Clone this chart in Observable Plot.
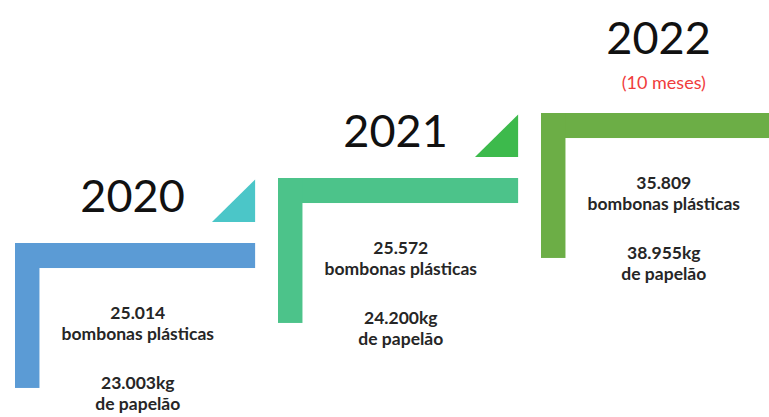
<!DOCTYPE html>
<html>
<head>
<meta charset="utf-8">
<script src="https://cdn.jsdelivr.net/npm/d3@7"></script>
<script src="https://cdn.jsdelivr.net/npm/@observablehq/plot@0.6"></script>
<style>
  html, body { margin: 0; padding: 0; background: #fff; }
  #chart svg { display: block; }
</style>
</head>
<body>
<div id="chart"></div>
<script>
// ---- data ----
const years = ["2020", "2021", "2022"];
const notes = ["", "", "(10 meses)"];
const bombonas = ["25.014", "25.572", "35.809"];
const papelao = ["23.003kg", "24.200kg", "38.955kg"];

const barColors = ["#5b9bd5", "#4cc38a", "#6cae46"];
const arrowColors = ["#4bc6c8", "#3dba4c", "#6cae46"];

const steps = years.map((year, i) => ({
  i, year, note: notes[i],
  bomb: bombonas[i] + "\nbombonas plásticas",
  pap: papelao[i] + "\nde papelão",
  last: i === years.length - 1
}));

// geometry in step units (x: one step to the right, y: one step up)
const BAR_W = 0.913, BAR_T = 0.385, POST_W = 0.093, POST_H = 2.23;

const triPts = steps.filter(d => !d.last).flatMap(d => [
  {i: d.i, x: d.i + 0.749, y1: d.i + 0.323, y2: d.i + 0.323},
  {i: d.i, x: d.i + BAR_W, y1: d.i + 0.323, y2: d.i + 0.977}
]);

const chart = Plot.plot({
  width: 769,
  height: 417,
  margin: 0,
  x: {domain: [-15 / 263, 754 / 263], axis: null},
  y: {domain: [-174 / 65, 243 / 65], axis: null},
  marks: [
    Plot.rect(steps, {
      x1: d => d.i, x2: d => d.last ? d.i + 2 : d.i + BAR_W,
      y1: d => d.i, y2: d => d.i - BAR_T,
      fill: d => barColors[d.i]
    }),
    Plot.rect(steps, {
      x1: d => d.i, x2: d => d.i + POST_W,
      y1: d => d.i, y2: d => d.i - POST_H,
      fill: d => barColors[d.i]
    }),
    Plot.areaY(triPts, {
      x: "x", y1: "y1", y2: "y2", z: "i",
      fill: d => arrowColors[d.i]
    }),
    Plot.text(steps, {
      x: d => d.i + 0.445,
      y: d => d.note ? d.i + 0.92 : d.i + 0.48,
      text: "year",
      fontSize: 45,
      fontFamily: "Lato",
      fill: "#111",
      textAnchor: "middle",
      lineAnchor: "bottom"
    }),
    Plot.text(steps.filter(d => d.note), {
      x: d => d.i + 0.465,
      y: d => d.i + 0.46,
      text: "note",
      fontSize: 18,
      fontFamily: "Lato",
      fill: "#f03c3c",
      textAnchor: "middle",
      lineAnchor: "middle"
    }),
    Plot.text(steps, {
      x: d => d.i + 0.465,
      y: d => d.i - 1.215,
      text: "bomb",
      fontSize: 17.5,
      lineHeight: 1.25,
      fontFamily: "Lato",
      fontWeight: "bold",
      fill: "#262626",
      textAnchor: "middle",
      lineAnchor: "middle"
    }),
    Plot.text(steps, {
      x: d => d.i + 0.465,
      y: d => d.i - 2.3,
      text: "pap",
      fontSize: 17.5,
      lineHeight: 1.2,
      fontFamily: "Lato",
      fontWeight: "bold",
      fill: "#262626",
      textAnchor: "middle",
      lineAnchor: "middle"
    })
  ]
});
document.getElementById("chart").appendChild(chart);
</script>
</body>
</html>
